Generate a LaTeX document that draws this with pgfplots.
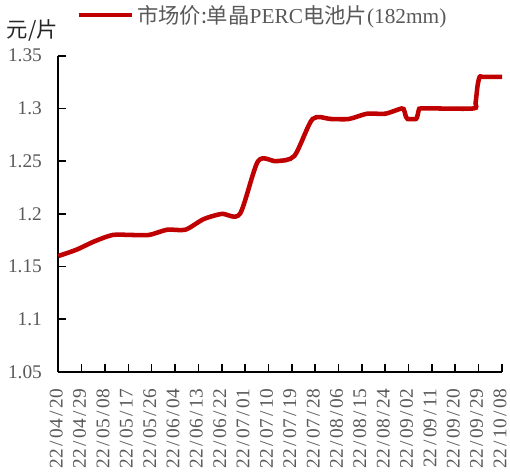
\documentclass[border=0pt]{standalone}
\usepackage{pgfplots}
\pgfplotsset{compat=1.18}
\usepackage{fontspec}
\setmainfont{Liberation Serif}
\newfontfamily\cjk{Noto Sans CJK SC}
\definecolor{lred}{HTML}{C00000}
\definecolor{tgray}{HTML}{595959}
\newcommand{\dsl}{\kern2pt/\kern2pt}
\begin{document}
\begin{tikzpicture}
\useasboundingbox (-43.7pt,-77.25pt) rectangle (338.8pt,279pt);
\begin{axis}[
  scale only axis,
  width=332.8pt, height=237.2pt,
  xmin=0, xmax=171, ymin=1.05, ymax=1.35,
  axis x line*=bottom, axis y line*=left,
  axis line style={line width=1.5pt, black},
  tick style={line width=1.2pt, black},
  tick align=inside,
  major tick length=6pt,
  xtick={0,9,...,171},
  xticklabels={22\dsl04\dsl20,22\dsl04\dsl29,22\dsl05\dsl08,22\dsl05\dsl17,22\dsl05\dsl26,22\dsl06\dsl04,22\dsl06\dsl13,22\dsl06\dsl22,22\dsl07\dsl01,22\dsl07\dsl10,22\dsl07\dsl19,22\dsl07\dsl28,22\dsl08\dsl06,22\dsl08\dsl15,22\dsl08\dsl24,22\dsl09\dsl02,22\dsl09\dsl11,22\dsl09\dsl20,22\dsl09\dsl29,22\dsl10\dsl08},
  ytick={1.05,1.1,1.15,1.2,1.25,1.3,1.35},
  yticklabels={1.05,1.1,1.15,1.2,1.25,1.3,1.35},
  xticklabel style={rotate=90, anchor=east, font=\fontsize{14.5}{14.5}\selectfont, text=tgray, xshift=-9.25pt, yshift=1.5pt},
  yticklabel style={font=\fontsize{14.5}{14.5}\selectfont, text=tgray, xshift=-8.75pt},
  legend style={draw=none, fill=none, at={(axis description cs:0,1)}, anchor=west, xshift=13.5pt, yshift=30.5pt, font=\cjk\fontsize{16}{16}\selectfont, text=tgray, inner sep=0pt},
  legend cell align=left,
  legend image code/.code={\path (0pt,0pt) -- (40pt,0pt);\draw[lred, line width=3.4pt] (0pt,0pt) -- (37pt,0pt);},
  clip=false,
]
\addplot[lred, line width=3.4pt, smooth, tension=0.45] coordinates {
(0,1.160) (7,1.166) (14,1.174) (21,1.180) (28,1.180) (35,1.180)
(42,1.185) (49,1.185) (56,1.195) (63,1.200) (70,1.200) (77,1.250)
(84,1.250) (91,1.255) (98,1.290) (105,1.290) (112,1.290) (119,1.295)
(126,1.295) (132.3,1.300) (133.3,1.298) (134,1.292) (134.6,1.290)
(137.8,1.290) (138.4,1.293) (139,1.299) (139.7,1.300) (145,1.300)
(160,1.300) (160.8,1.305) (161.6,1.322) (162.4,1.330) (163.5,1.330) (171,1.330)
};
\addlegendentry{市场价:单晶{\fontspec{Liberation Serif}PERC}电池片{\fontspec{Liberation Serif}(182mm)}}
\node[font=\cjk\fontsize{16}{16}\selectfont, text=black!85] at ([xshift=-19.5pt, yshift=19.3pt]rel axis cs:0,1) {元/片};
\end{axis}
\end{tikzpicture}
\end{document}
